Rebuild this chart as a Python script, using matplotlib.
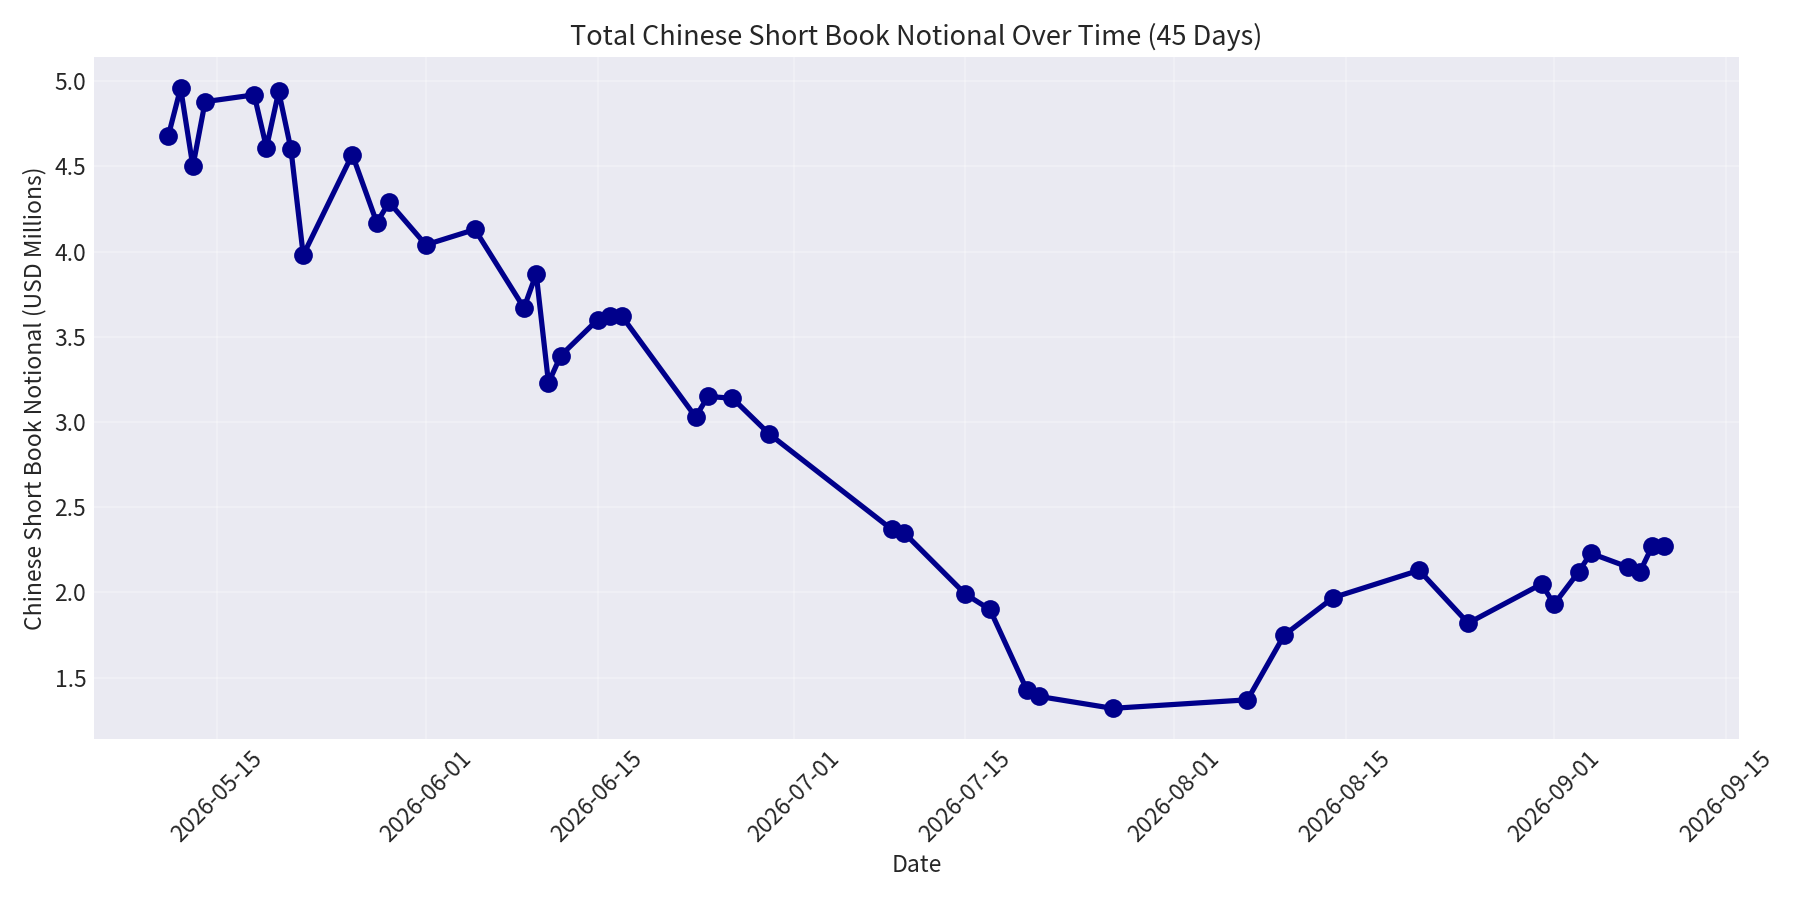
import matplotlib
matplotlib.use("Agg")
import matplotlib.pyplot as plt
import matplotlib.dates as mdates
import pandas as pd

dates = [
    "2026-05-11", "2026-05-12", "2026-05-13", "2026-05-14", "2026-05-18",
    "2026-05-19", "2026-05-20", "2026-05-21", "2026-05-22", "2026-05-26",
    "2026-05-28", "2026-05-29", "2026-06-01", "2026-06-05", "2026-06-09",
    "2026-06-10", "2026-06-11", "2026-06-12", "2026-06-15", "2026-06-16",
    "2026-06-17", "2026-06-23", "2026-06-24", "2026-06-26", "2026-06-29",
    "2026-07-09", "2026-07-10", "2026-07-15", "2026-07-17", "2026-07-20",
    "2026-07-21", "2026-07-27", "2026-08-07", "2026-08-10", "2026-08-14",
    "2026-08-21", "2026-08-25", "2026-08-31", "2026-09-01", "2026-09-03",
    "2026-09-04", "2026-09-07", "2026-09-08", "2026-09-09", "2026-09-10",
]
notional_musd = [
    4.68, 4.96, 4.50, 4.88, 4.92,
    4.61, 4.94, 4.60, 3.98, 4.57,
    4.17, 4.29, 4.04, 4.13, 3.67,
    3.87, 3.23, 3.39, 3.60, 3.62,
    3.62, 3.03, 3.15, 3.14, 2.93,
    2.37, 2.35, 1.99, 1.90, 1.43,
    1.39, 1.32, 1.37, 1.75, 1.97,
    2.13, 1.82, 2.05, 1.93, 2.12,
    2.23, 2.15, 2.12, 2.27, 2.27,
]

title = "Total Chinese Short Book Notional Over Time (45 Days)"
xlabel = "Date"
ylabel = "Chinese Short Book Notional (USD Millions)"

plt.style.use("seaborn-v0_8-darkgrid")
plt.rcParams["font.family"] = ["Noto Sans CJK SC", "DejaVu Sans"]

x = pd.to_datetime(dates)

fig, ax = plt.subplots(figsize=(12, 6), dpi=150)
ax.plot(x, notional_musd, marker="o", color="darkblue", linewidth=2.5, markersize=8)
ax.set_title(title, fontsize=13)
ax.set_xlabel(xlabel, fontsize=11)
ax.set_ylabel(ylabel, fontsize=11)
ax.tick_params(axis="both", labelsize=11)
ax.xaxis.set_major_locator(mdates.AutoDateLocator())
ax.xaxis.set_major_formatter(mdates.DateFormatter("%Y-%m-%d"))
plt.setp(ax.get_xticklabels(), rotation=45)
ax.grid(True, alpha=0.3)
fig.tight_layout()
fig.savefig("out.png", dpi=150)
